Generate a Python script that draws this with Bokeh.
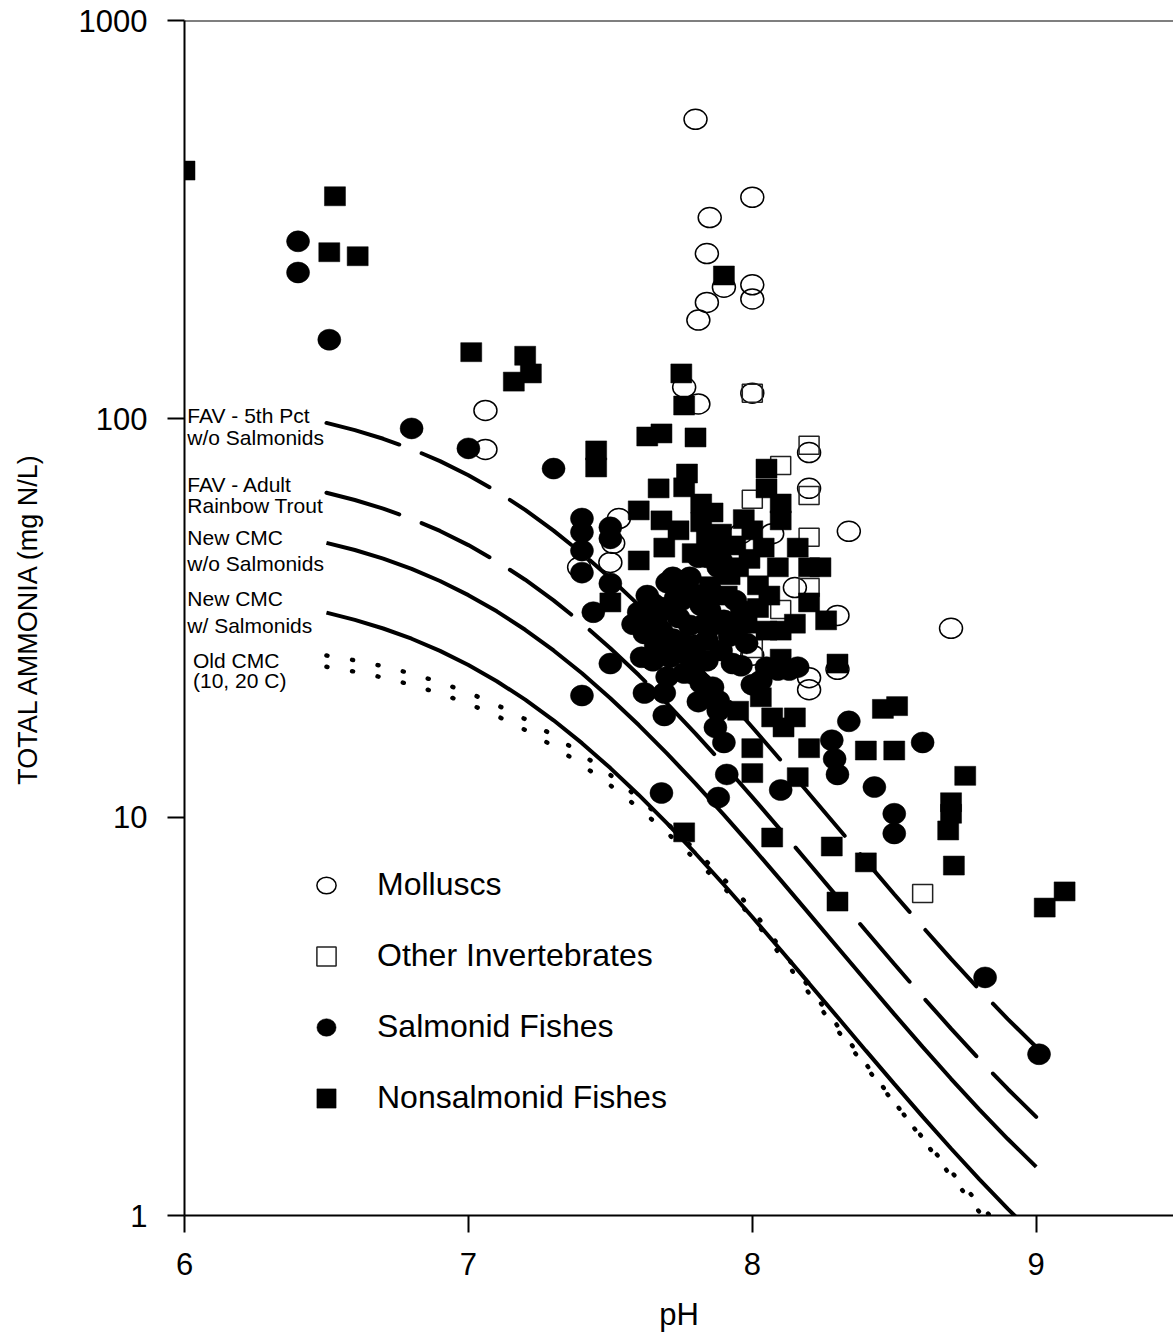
from bokeh.plotting import figure
from bokeh.models import (Range1d, FixedTicker, NumeralTickFormatter, Span, Label,
                          Legend, LegendItem)
from bokeh.embed import file_html
from bokeh.resources import INLINE

# ---------------- criteria curves ----------------
curve_ph = [6.5, 6.6, 6.7, 6.8, 6.9, 7.0, 7.1, 7.2, 7.3, 7.4, 7.5, 7.6, 7.7,
            7.8, 7.9, 8.0, 8.1, 8.2, 8.3, 8.4, 8.5, 8.6, 8.7, 8.8, 8.9, 9.0]
fav_5th_wo_salmonids = [97.66, 93.68, 89.12, 84.00, 78.32, 72.18, 65.72, 59.08, 52.42,
                        45.94, 39.78, 34.06, 28.88, 24.28, 20.26, 16.82, 13.90, 11.45,
                        9.430, 7.766, 6.406, 5.302, 4.408, 3.690, 3.112, 2.648]
fav_adult_rainbow = [65.22, 62.56, 59.52, 56.10, 52.30, 48.20, 43.88, 39.46, 35.02,
                     30.68, 26.56, 22.74, 19.29, 16.21, 13.53, 11.23, 9.282, 7.650,
                     6.298, 5.186, 4.280, 3.542, 2.946, 2.464, 2.078, 1.769]
cmc_wo_salmonids = [48.83, 46.84, 44.56, 42.00, 39.16, 36.09, 32.86, 29.54, 26.21,
                    22.97, 19.89, 17.03, 14.44, 12.14, 10.13, 8.408, 6.948, 5.727,
                    4.715, 3.883, 3.203, 2.651, 2.204, 1.845, 1.556, 1.324]
cmc_w_salmonids = [32.61, 31.28, 29.76, 28.05, 26.15, 24.10, 21.94, 19.73, 17.51,
                   15.34, 13.28, 11.37, 9.644, 8.107, 6.766, 5.615, 4.641, 3.825,
                   3.149, 2.593, 2.140, 1.771, 1.473, 1.232, 1.039, 0.8847]
old_cmc_10c = [25.47, 24.76, 23.92, 22.93, 21.81, 20.54, 19.14, 17.62, 16.03, 14.40,
               12.76, 11.17, 9.658, 8.257, 6.988, 5.867, 4.682, 3.741, 2.994, 2.401,
               1.928, 1.554, 1.2565, 1.0201, 0.8324, 0.6833]
old_cmc_20c = [23.85, 23.19, 22.41, 21.49, 20.44, 19.27, 17.96, 16.55, 15.07, 13.54,
               12.02, 10.54, 9.134, 7.830, 6.647, 5.606, 4.496, 3.614, 2.916, 2.360,
               1.919, 1.568, 1.290, 1.068, 0.8927, 0.7533]

curve_labels = ["FAV - 5th Pct", "w/o Salmonids", "FAV - Adult", "Rainbow Trout",
                "New CMC", "w/o Salmonids", "New CMC", "w/ Salmonids",
                "Old CMC", "(10, 20 C)"]
curve_label_ph = [6.01, 6.01, 6.01, 6.01, 6.01, 6.01, 6.01, 6.01, 6.03, 6.03]
curve_label_val = [102, 89.8, 68.4, 60.6, 50.4, 43.4, 35.4, 30.3, 24.7, 22.0]

# ---------------- toxicity data ----------------
molluscs_ph = [7.80, 8.00, 7.85, 7.84, 7.90, 8.00, 8.00, 7.84, 7.81, 7.76, 7.81, 8.00,
               7.06, 7.06, 7.53, 7.51, 7.50, 7.39, 7.96, 8.07, 8.15, 8.20, 8.20, 8.34,
               8.30, 8.30, 8.20, 8.20, 8.00, 8.70]
molluscs_val = [565, 360, 320, 260, 214, 217, 200, 196, 177, 120, 109, 116,
                105, 83.8, 56.2, 48.7, 43.6, 42.4, 51.5, 51.5, 37.7, 82.3, 66.9, 52.2,
                32.1, 23.5, 22.4, 20.9, 25.5, 29.8]

invert_ph = [8.00, 8.20, 8.10, 8.00, 8.20, 8.20, 8.20, 8.00, 8.60, 8.10]
invert_val = [116, 85.8, 76.4, 62.8, 64.2, 50.4, 37.7, 26.5, 6.43, 33.2]

salmonid_ph = [6.40, 6.40, 6.51, 6.80, 7.00, 7.30,
               7.40, 7.40, 7.40, 7.40, 7.50, 7.50, 7.50, 7.44, 7.50, 7.40,
               7.70, 7.76, 7.84, 7.88, 7.60, 7.65, 7.62, 7.68, 7.74, 7.61, 7.65, 7.71,
               7.76, 7.84, 7.86, 7.90, 7.79, 7.86, 7.88, 7.88, 7.62, 7.69, 7.69, 7.98,
               8.05, 7.78, 7.89, 7.81, 7.68, 7.82, 7.93, 8.03, 8.09, 8.16, 8.13, 7.87,
               7.90, 7.91, 7.88, 7.68, 8.10, 7.75, 7.82, 7.94, 7.78, 7.89, 7.84,
               7.63, 7.66, 7.72, 7.70, 7.73, 7.80, 7.76, 7.81, 7.85, 7.92, 7.72, 7.66, 7.58,
               7.64, 7.70, 7.75, 7.80, 7.72, 7.83, 7.86, 7.79, 7.95, 7.96, 8.00,
               8.34, 8.28, 8.29, 8.30, 8.43, 8.50, 8.50, 8.60, 8.82, 9.01]
salmonid_val = [279, 233, 158, 94.6, 84.3, 75.0,
                56.2, 51.9, 46.7, 41.1, 53.4, 50.1, 38.6, 32.7, 24.3, 20.2,
                38.8, 39.3, 44.9, 42.4, 32.7, 34.4, 28.9, 29.4, 31.7, 25.2, 24.7, 25.2,
                25.8, 27.8, 30.3, 31.2, 22.9, 21.2, 19.6, 18.5, 20.5, 20.5, 18.0, 27.3,
                23.8, 40.0, 44.1, 44.9, 33.6, 21.7, 24.3, 22.0, 23.4, 23.8, 23.4, 16.8,
                15.4, 12.8, 11.2, 11.5, 11.7, 35.0, 34.0, 35.0, 30.3, 26.2, 24.7,
                36.0, 31.0, 28.0, 22.5, 35.5, 27.0, 23.0, 19.5, 33.0, 28.5, 40.0, 27.0, 30.5,
                30.0, 26.5, 27.5, 25.0, 33.0, 30.5, 36.5, 36.5, 30.0, 24.0, 21.5,
                17.4, 15.6, 14.0, 12.8, 11.9, 10.2, 9.10, 15.4, 3.96, 2.54]

nonsalmonid_ph = [6.00, 6.53, 6.51, 6.61, 7.01, 7.20, 7.22, 7.16, 7.90, 7.75, 7.76,
                  7.45, 7.45, 7.63, 7.68, 7.80, 7.77, 7.67, 7.76, 7.60, 7.82, 7.86,
                  7.68, 7.74, 7.89, 7.69, 7.60,
                  8.05, 8.05, 8.10, 8.10, 8.00, 8.04, 8.16, 8.24, 8.20, 8.09, 7.95,
                  8.20, 8.26, 7.50, 8.15, 8.10, 7.98, 8.10, 8.30, 8.07, 8.15, 8.11,
                  8.20, 8.00, 8.00, 8.16, 7.95, 8.03,
                  8.46, 8.51, 8.40, 8.50, 8.75, 8.70, 8.70, 8.69, 8.71, 8.28, 8.40,
                  8.30, 9.10, 9.03, 7.76, 8.07,
                  7.84, 7.94, 8.02, 8.06, 7.96, 8.05, 7.91,
                  7.85, 7.99, 7.92, 8.02, 7.88, 7.97, 7.82, 7.79]
nonsalmonid_val = [420, 362, 262, 256, 147, 144, 130, 124, 229, 130, 108,
                   83.3, 75.5, 90.3, 91.9, 89.8, 72.9, 66.9, 67.3, 58.9, 61.3, 58.2,
                   55.6, 52.5, 51.5, 47.5, 44.1,
                   75.0, 66.9, 61.3, 55.6, 52.5, 47.5, 47.5, 42.4, 42.4, 42.4, 42.4,
                   34.6, 31.2, 34.6, 30.6, 29.4, 30.6, 25.0, 24.3, 17.8, 17.8, 16.8,
                   14.9, 14.9, 12.9, 12.6, 18.5, 20.0,
                   18.7, 19.0, 14.7, 14.7, 12.7, 10.9, 10.2, 9.26, 7.56, 8.44, 7.70,
                   6.14, 6.51, 5.93, 9.16, 8.89,
                   49.5, 48.1, 38.2, 36.0, 33.0, 29.4, 36.0,
                   38.0, 44.5, 40.5, 33.5, 47.0, 56.0, 55.0, 46.0]

x_ticks = [6, 7, 8, 9]
y_ticks = [1, 10, 100, 1000]

FONT = "Liberation Sans"

p = figure(width=1173, height=1340, x_range=Range1d(6, 9.4836), y_range=Range1d(1, 1000),
           y_axis_type="log", output_backend="svg", toolbar_location=None,
           min_border_left=184, min_border_right=0, min_border_top=20, min_border_bottom=125)
p.outline_line_color = None
p.grid.visible = False

# curves
p.line(curve_ph, fav_5th_wo_salmonids, line_color="black", line_width=4, line_dash="76 24", line_cap="round")
p.line(curve_ph, fav_adult_rainbow, line_color="black", line_width=4, line_dash="76 24", line_cap="round")
p.line(curve_ph, cmc_wo_salmonids, line_color="black", line_width=4)
p.line(curve_ph, cmc_w_salmonids, line_color="black", line_width=4)
p.line(curve_ph, old_cmc_10c, line_color="black", line_width=4.5, line_dash="1 25", line_cap="round")
p.line(curve_ph, old_cmc_20c, line_color="black", line_width=4.5, line_dash="1 25", line_cap="round")

# data
r_moll = p.ellipse(molluscs_ph, molluscs_val, width=23, height=20, width_units="screen",
                   height_units="screen", fill_color=None, line_color="black", line_width=1.5)
r_inv = p.rect(invert_ph, invert_val, width=20, height=18, width_units="screen",
               height_units="screen", fill_color=None, line_color="#222222", line_width=1.5)
r_salm = p.ellipse(salmonid_ph, salmonid_val, width=23, height=21, width_units="screen",
                   height_units="screen", fill_color="black", line_color="black", line_width=0.5)
r_non = p.rect(nonsalmonid_ph, nonsalmonid_val, width=21, height=19, width_units="screen",
               height_units="screen", fill_color="black", line_color="black", line_width=0.5)

# top border
p.add_layout(Span(location=1000, dimension="width", line_color="black", line_width=2))

# curve labels
for txt, lx, ly in zip(curve_labels, curve_label_ph, curve_label_val):
    p.add_layout(Label(x=lx, y=ly, text=txt, text_font=FONT, text_font_size="21px",
                       text_color="black", text_baseline="middle", text_align="left"))

# axes
for ax in (p.xaxis[0], p.yaxis[0]):
    ax.axis_line_width = 2
    ax.axis_line_color = "black"
    ax.major_tick_line_width = 2
    ax.major_tick_line_color = "black"
    ax.major_tick_in = 0
    ax.major_tick_out = 17
    ax.minor_tick_line_color = None
    ax.major_label_text_font = FONT
    ax.major_label_text_font_size = "31px"
    ax.major_label_text_color = "black"
    ax.axis_label_text_font = FONT
    ax.axis_label_text_font_style = "normal"
    ax.axis_label_text_color = "black"

p.xaxis[0].ticker = FixedTicker(ticks=x_ticks)
p.yaxis[0].ticker = FixedTicker(ticks=y_ticks)
p.yaxis[0].formatter = NumeralTickFormatter(format="0")
p.xaxis[0].axis_label = "pH"
p.yaxis[0].axis_label = "TOTAL AMMONIA (mg N/L)"
p.xaxis[0].axis_label_text_font_size = "31px"
p.yaxis[0].axis_label_text_font_size = "27px"
p.yaxis[0].major_label_standoff = 20
p.yaxis[0].axis_label_standoff = 33
p.xaxis[0].major_label_standoff = 20
p.xaxis[0].axis_label_standoff = 19

legend = Legend(items=[LegendItem(label="Molluscs", renderers=[r_moll]),
                       LegendItem(label="Other Invertebrates", renderers=[r_inv]),
                       LegendItem(label="Salmonid Fishes", renderers=[r_salm]),
                       LegendItem(label="Nonsalmonid Fishes", renderers=[r_non])],
                location=(130, 99), orientation="vertical", glyph_width=24, glyph_height=24,
                label_standoff=39, spacing=34, padding=0, margin=0,
                border_line_color=None, background_fill_alpha=0,
                label_text_font=FONT, label_text_font_size="32px", label_text_color="black")
p.add_layout(legend)

open("out.html", "w").write(file_html(p, INLINE))
